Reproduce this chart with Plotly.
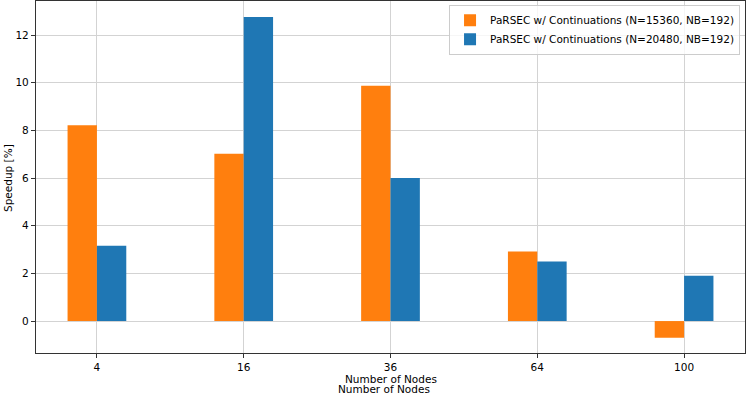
import plotly.graph_objects as go

nodes = ["4", "16", "36", "64", "100"]
speedup_15360 = [8.22, 7.02, 9.87, 2.92, -0.70]
speedup_20480 = [3.16, 12.76, 6.0, 2.50, 1.90]
series_names = ["PaRSEC w/ Continuations (N=15360, NB=192)",
                "PaRSEC w/ Continuations (N=20480, NB=192)"]

FONT = "DejaVu Sans, Arial, sans-serif"
FS = 10.5

fig = go.Figure()
fig.add_trace(go.Bar(x=nodes, y=speedup_15360, name=series_names[0],
                     marker=dict(color="#ff7f0e", line=dict(width=0))))
fig.add_trace(go.Bar(x=nodes, y=speedup_20480, name=series_names[1],
                     marker=dict(color="#1f77b4", line=dict(width=0))))

axis_common = dict(showline=True, linecolor="#333333", linewidth=1.2, mirror=True,
                   ticks="outside", ticklen=4, tickcolor="#333333",
                   showgrid=True, gridcolor="#d3d3d3", gridwidth=1,
                   automargin=False,
                   tickfont=dict(family=FONT, size=FS, color="black"))

fig.update_layout(
    width=747, height=393,
    margin=dict(l=36, r=2, t=1, b=40),
    plot_bgcolor="white", paper_bgcolor="white",
    barmode="group", bargap=0.6, bargroupgap=0,
    font=dict(family=FONT, size=FS, color="black"),
    xaxis=dict(axis_common, type="category", range=[-0.415, 4.415]),
    yaxis=dict(axis_common, range=[-1.34, 13.43], tickvals=[0, 2, 4, 6, 8, 10, 12],
               zeroline=False),
    legend=dict(x=0.993, y=0.989, xanchor="right", yanchor="top",
                bgcolor="rgba(255,255,255,0.8)", bordercolor="#cccccc", borderwidth=1,
                font=dict(family=FONT, size=FS), tracegroupgap=0, itemwidth=30),
    showlegend=True,
)

fig.add_annotation(text="Speedup [%]", xref="paper", yref="paper",
                   x=-28 / 709, y=(352 - 177) / 352, textangle=-90,
                   xanchor="center", yanchor="middle",
                   showarrow=False, font=dict(family=FONT, size=FS))
fig.add_annotation(text="Number of Nodes", xref="paper", yref="paper",
                   x=(391 - 36) / 709, y=-26 / 352, xanchor="center", yanchor="middle",
                   showarrow=False, font=dict(family=FONT, size=FS))
fig.add_annotation(text="Number of Nodes", xref="paper", yref="paper",
                   x=(384 - 36) / 709, y=-36 / 352, xanchor="center", yanchor="middle",
                   showarrow=False, font=dict(family=FONT, size=FS))

# drop the browser's default body margin so the figure sits at the window origin
fig.write_html("out.html", config={"displayModeBar": False},
               post_script="document.body.style.margin='0';")
